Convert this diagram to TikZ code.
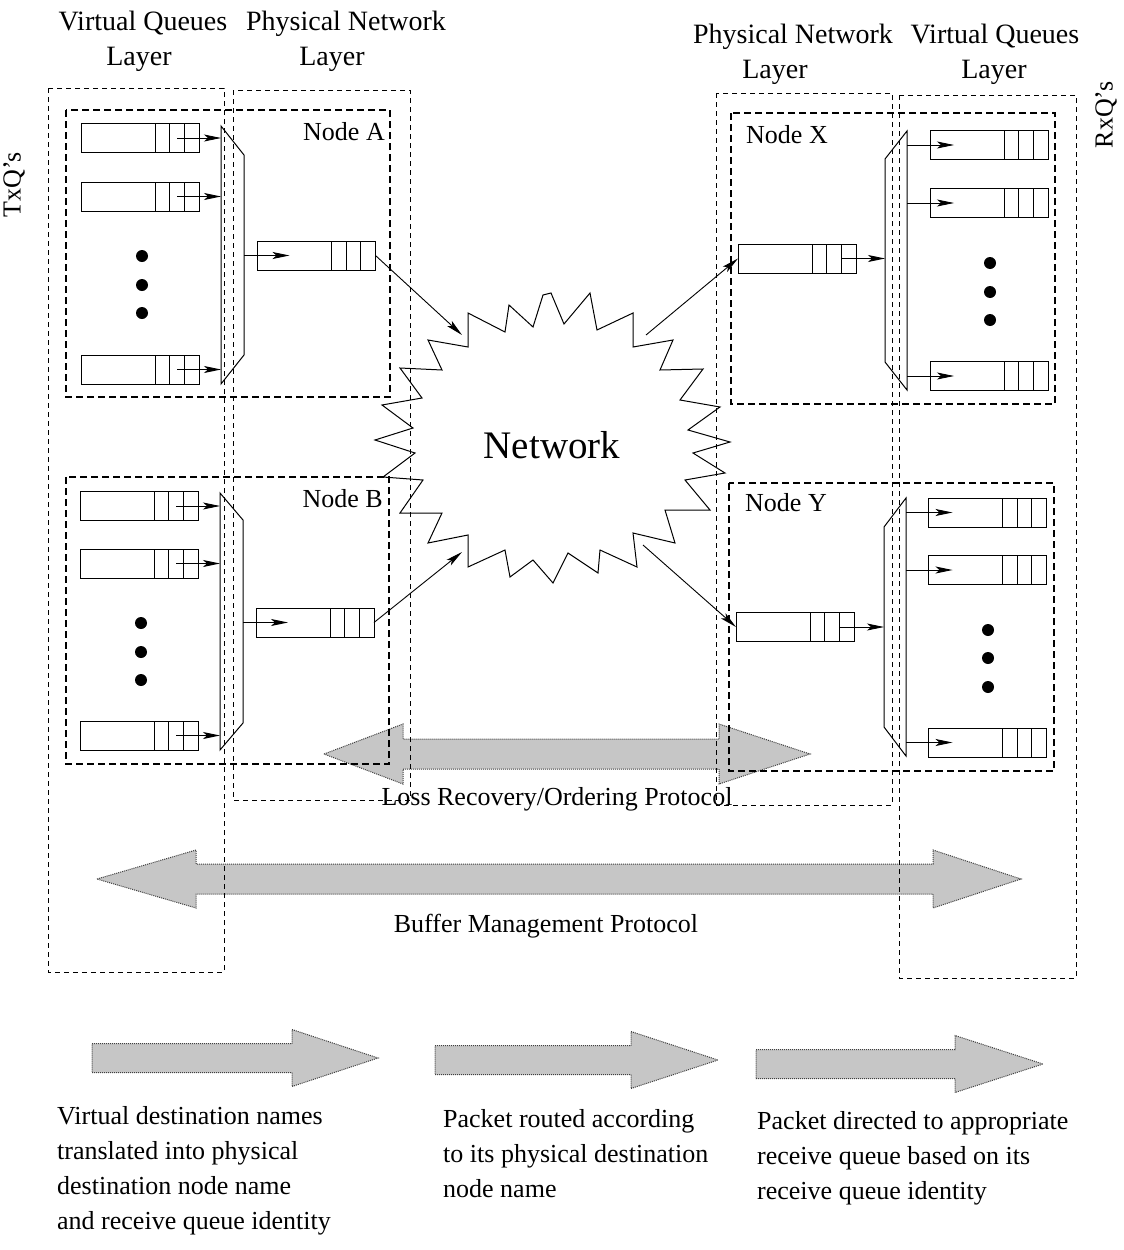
\documentclass[tikz,border=0pt]{standalone}
\usepackage{fontspec}
\setmainfont{Liberation Serif}
\usetikzlibrary{calc,arrows.meta}

\newcommand\mkqueue[3]{%
  \node[qbox] (#1) at (#2,#3) {};
  \foreach \d in {15,29.5,44} \draw[line width=1pt] ($(#1.north east)+(-\d,0)$) -- ($(#1.south east)+(-\d,0)$);
}
\newcommand\dblarr[7]{%
  \draw[grayarr] (#1,#5) -- (#2,#5-#6) -- (#2,#5-#7) -- (#3,#5-#7) -- (#3,#5-#6) -- (#4,#5)
     -- (#3,#5+#6) -- (#3,#5+#7) -- (#2,#5+#7) -- (#2,#5+#6) -- cycle;}
\newcommand\sarr[6]{%
  \draw[grayarr] (#1,#4-#6) -- (#2,#4-#6) -- (#2,#4-#5) -- (#3,#4) -- (#2,#4+#5) -- (#2,#4+#6) -- (#1,#4+#6) -- cycle;}

\begin{document}
\begin{tikzpicture}[x=1pt,y=-1pt,
  txt/.style={font=\fontsize{26}{35}\selectfont, inner sep=0pt},
  laytxt/.style={font=\fontsize{28}{35}\selectfont, inner sep=0pt},
  qbox/.style={draw, line width=1pt, minimum width=118pt, minimum height=29pt, inner sep=0pt, outer sep=0pt},
  layerbox/.style={draw, dash pattern=on 5pt off 4pt, line width=0.8pt},
  nodebox/.style={draw, dash pattern=on 7pt off 4pt, line width=1.5pt},
  arr/.style={-{Stealth[length=17pt,width=7pt,inset=4pt]}, line width=0.9pt},
  muxbox/.style={draw=none, inner sep=0pt, outer sep=0pt},
  grayarr/.style={fill=gray!45, draw=gray!50!black, densely dotted, line width=1pt},
  bigdot/.style={circle, fill, inner sep=0pt, minimum size=12pt},
]
\useasboundingbox (0,0) rectangle (1124,1250);

% gray protocol arrows
\dblarr{324}{403}{719}{810}{754}{30}{15}
\dblarr{97}{196}{933}{1021}{879}{29}{15}
\sarr{92}{292}{378}{1058}{28.5}{14.5}
\sarr{435}{631}{718}{1060}{28.5}{14.5}
\sarr{756}{955}{1043}{1064}{28.5}{14.5}

% layer boxes
\draw[layerbox] (48,88) rectangle (224,972);
\draw[layerbox] (233,90) rectangle (410,800);
\draw[layerbox] (716,93) rectangle (892,805);
\draw[layerbox] (899,95) rectangle (1076,978);
% node boxes
\draw[nodebox] (66,110) rectangle (390,397);
\draw[nodebox] (66,477) rectangle (389,764);
\draw[nodebox] (731,113) rectangle (1055,404);
\draw[nodebox] (729,483) rectangle (1054,771);

% layer labels
\node[laytxt, anchor=base] (vqlA) at (143,30) {Virtual Queues};
\node[laytxt, anchor=base] (vqlB) at (139,65) {Layer};
\node[laytxt, anchor=base] (pnlA) at (346,30) {Physical Network};
\node[laytxt, anchor=base] (pnlB) at (332,65) {Layer};
\node[laytxt, anchor=base] (pnrA) at (793,43) {Physical Network};
\node[laytxt, anchor=base] (pnrB) at (775,78) {Layer};
\node[laytxt, anchor=base] (vqrA) at (995,43) {Virtual Queues};
\node[laytxt, anchor=base] (vqrB) at (994,78) {Layer};
\node[txt, rotate=90] (txq) at (14,185) {TxQ's};
\node[txt, rotate=90] (rxq) at (1106,115) {RxQ's};

% node labels
\node[txt, anchor=base east] (lblA) at (385,140) {Node A};
\node[txt, anchor=base east] (lblB) at (383,507) {Node B};
\node[txt, anchor=base west] (lblX) at (746,143) {Node X};
\node[txt, anchor=base west] (lblY) at (745,511) {Node Y};

% ---------- Node A ----------
\mkqueue{qa1}{140}{138}
\mkqueue{qa2}{140}{196.5}
\mkqueue{qa3}{140}{369.5}
\node[bigdot] (da1) at (142,256) {};
\node[bigdot] (da2) at (142,285) {};
\node[bigdot] (da3) at (142,313) {};
\node[muxbox, minimum width=23pt, minimum height=258pt] (muxA) at (232.5,255) {};
\draw[line width=1pt] (muxA.north west) -- ($(muxA.north east)+(0,29)$) -- ($(muxA.south east)+(0,-29)$) -- (muxA.south west) -- cycle;
\foreach \q in {qa1,qa2,qa3} \draw[arr] ($(\q.east)+(-22,0)$) -- (\q.east -| muxA.west);
\mkqueue{pa}{316.5}{255.5}
\draw[arr] (pa.west -| muxA.east) -- ($(pa.west)+(32,0)$);

% ---------- Node B ----------
\mkqueue{qb1}{139}{506}
\mkqueue{qb2}{139}{563.5}
\mkqueue{qb3}{139}{735.5}
\node[bigdot] (db1) at (141,623) {};
\node[bigdot] (db2) at (141,652) {};
\node[bigdot] (db3) at (141,680) {};
\node[muxbox, minimum width=23pt, minimum height=257pt] (muxB) at (231.5,621.5) {};
\draw[line width=1pt] (muxB.north west) -- ($(muxB.north east)+(0,27)$) -- ($(muxB.south east)+(0,-27)$) -- (muxB.south west) -- cycle;
\foreach \q in {qb1,qb2,qb3} \draw[arr] ($(\q.east)+(-22,0)$) -- (\q.east -| muxB.west);
\mkqueue{pb}{315}{622.5}
\draw[arr] (pb.west -| muxB.east) -- ($(pb.west)+(32,0)$);

% ---------- Node X ----------
\mkqueue{px}{797}{258.5}
\node[muxbox, minimum width=22pt, minimum height=259pt] (muxX) at (896,260.5) {};
\draw[line width=1pt] ($(muxX.north west)+(0,28)$) -- (muxX.north east) -- (muxX.south east) -- ($(muxX.south west)+(0,-28)$) -- cycle;
\draw[arr] ($(px.east)+(-14,0)$) -- (px.east -| muxX.west);
\mkqueue{qx1}{989}{145}
\mkqueue{qx2}{989}{203}
\mkqueue{qx3}{989}{376}
\node[bigdot] (dx1) at (990,263) {};
\node[bigdot] (dx2) at (990,292) {};
\node[bigdot] (dx3) at (990,320) {};
\foreach \q in {qx1,qx2,qx3} \draw[arr] (\q.west -| muxX.east) -- ($(\q.west)+(24,0)$);

% ---------- Node Y ----------
\mkqueue{py}{795}{627}
\node[muxbox, minimum width=22pt, minimum height=258pt] (muxY) at (895,627) {};
\draw[line width=1pt] ($(muxY.north west)+(0,29)$) -- (muxY.north east) -- (muxY.south east) -- ($(muxY.south west)+(0,-29)$) -- cycle;
\draw[arr] ($(py.east)+(-14,0)$) -- (py.east -| muxY.west);
\mkqueue{qy1}{987.5}{512.5}
\mkqueue{qy2}{987.5}{570}
\mkqueue{qy3}{987.5}{742.5}
\node[bigdot] (dy1) at (988,630) {};
\node[bigdot] (dy2) at (988,658) {};
\node[bigdot] (dy3) at (988,687) {};
\foreach \q in {qy1,qy2,qy3} \draw[arr] (\q.west -| muxY.east) -- ($(\q.west)+(24,0)$);

% ---------- Network ----------
\draw[line width=1pt] (551,293) -- (564,324) -- (590,293) -- (597,330) -- (633,313) -- (633,347)
 -- (673,340) -- (660,370) -- (703,369) -- (680,400) -- (720,407) -- (688,430) -- (730,442)
 -- (693,453) -- (725,473) -- (685,480) -- (710,510) -- (665,510) -- (675,543) -- (633,533)
 -- (637,567) -- (600,550) -- (598,573) -- (568,553) -- (553,583) -- (533,560) -- (510,577)
 -- (505,550) -- (468,567) -- (468,535) -- (428,543) -- (442,513) -- (400,513) -- (423,480)
 -- (383,477) -- (415,453) -- (375,440) -- (413,428) -- (382,405) -- (422,398) -- (400,368)
 -- (442,370) -- (428,340) -- (468,347) -- (468,313) -- (505,332) -- (509,305) -- (533,327)
 -- (543,295) -- cycle;
\node[inner sep=0pt, font=\fontsize{39}{44}\selectfont] (net) at (552,445) {Network};
\coordinate (netA) at (462,335);
\coordinate (netB) at (462,552);
\coordinate (netX) at (646,335);
\coordinate (netY) at (643,545);
\draw[arr] (pa.east) -- (netA);
\draw[arr] (pb.east) -- (netB);
\draw[arr] (netX) -- (px.west);
\draw[arr] (netY) -- (py.west);

% protocol labels
\node[txt, anchor=base] (loss) at (557,805) {Loss Recovery/Ordering Protocol};
\node[txt, anchor=base] (buf) at (546,932) {Buffer Management Protocol};

% bottom explanations
\node[txt, anchor=north west, align=left] (ex1) at (57,1106) {Virtual destination names\\translated into physical\\destination node name\\and receive queue identity};
\node[txt, anchor=north west, align=left] (ex2) at (443,1109) {Packet routed according\\to its physical destination\\node name};
\node[txt, anchor=north west, align=left] (ex3) at (757,1111) {Packet directed to appropriate\\receive queue based on its\\receive queue identity};
\end{tikzpicture}
\end{document}
